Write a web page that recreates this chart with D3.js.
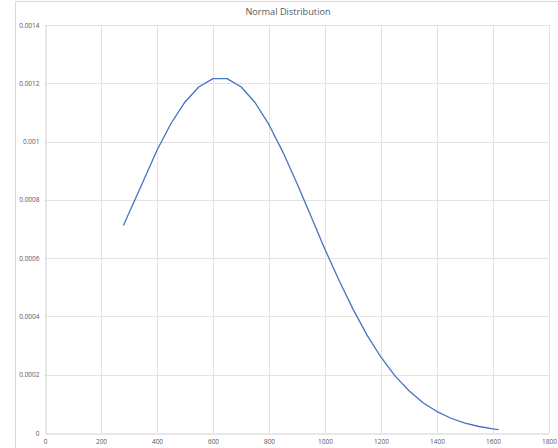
<!DOCTYPE html>
<meta charset="utf-8">
<style>
body { margin: 0; background: #fff; }
svg { font-family: "Open Sans", "Liberation Sans", sans-serif; }
</style>
<svg width="558" height="448"></svg>
<script src="https://d3js.org/d3.v7.min.js"></script>
<script>
// values
var xs = [280, 350, 400, 450, 500, 550, 600, 650, 700, 750, 800, 850, 900, 950,
          1000, 1050, 1100, 1150, 1200, 1250, 1300, 1350, 1400, 1450, 1500, 1550, 1600, 1620];
var ys = [0.000712, 0.000862, 0.000970, 0.001062, 0.001136, 0.001188, 0.001216, 0.001216,
          0.001188, 0.001134, 0.001058, 0.000963, 0.000856, 0.000744, 0.000630, 0.000524, 0.000425,
          0.000336, 0.000260, 0.000196, 0.000145, 0.000104, 0.0000736, 0.0000506, 0.000034,
          0.0000223, 0.0000143, 0.0000119];
var xTicks = [0, 200, 400, 600, 800, 1000, 1200, 1400, 1600, 1800];
var yTicks = [0, 0.0002, 0.0004, 0.0006, 0.0008, 0.001, 0.0012, 0.0014];
var title = "Normal Distribution";

var svg = d3.select("svg");

// chart area frame
svg.append("rect")
    .attr("x", 15.5).attr("y", 1.5)
    .attr("width", 600).attr("height", 600)
    .attr("fill", "none").attr("stroke", "#d9d9d9");

var x = d3.scaleLinear().domain([0, 1800]).range([45, 549]);
var y = d3.scaleLinear().domain([0, 0.0014]).range([433, 25]);

// grid
svg.append("g").selectAll("line")
    .data(yTicks.slice(1))
    .enter().append("line")
      .attr("x1", x(0)).attr("x2", x(1800))
      .attr("y1", function (d) { return Math.round(y(d)) + 0.5 })
      .attr("y2", function (d) { return Math.round(y(d)) + 0.5 })
      .attr("stroke", "#e3e3e3").attr("stroke-width", 1)

svg.append("g").selectAll("line")
    .data(xTicks.slice(1))
    .enter().append("line")
      .attr("x1", function (d) { return Math.round(x(d)) + 0.5 })
      .attr("x2", function (d) { return Math.round(x(d)) + 0.5 })
      .attr("y1", y(0)).attr("y2", y(0.0014))
      .attr("stroke", "#e3e3e3").attr("stroke-width", 1)

// axes
var xAxis = svg.append("g")
    .attr("transform", "translate(0," + (Math.round(y(0)) + 0.5) + ")")
    .call(d3.axisBottom(x).tickValues(xTicks).tickSize(0).tickPadding(6)
      .tickFormat(d3.format("d")));
xAxis.select(".domain").attr("stroke", "#cfcfcf");

var yAxis = svg.append("g")
    .attr("transform", "translate(" + (Math.round(x(0)) + 0.5) + ",0)")
    .call(d3.axisLeft(y).tickValues(yTicks).tickSize(0).tickPadding(6)
      .tickFormat(function (d) { return d === 0 ? "0" : String(+d.toPrecision(2)) }));
yAxis.select(".domain").attr("stroke", "#cfcfcf");

svg.selectAll(".tick text")
    .attr("fill", "#595959")
    .style("font-size", "6.5px")
    .style("font-family", "'Open Sans', sans-serif");

// the curve
var pts = xs.map(function (v, i) { return [v, ys[i]] });
svg.append("path")
    .datum(pts)
    .attr("fill", "none")
    .attr("stroke", "#4472c4")
    .attr("stroke-width", 1.3)
    .attr("stroke-linejoin", "round")
    .attr("d", d3.line()
      .x(function (d) { return x(d[0]) })
      .y(function (d) { return y(d[1]) }));

svg.append("text")
    .attr("x", 288).attr("y", 15)
    .attr("text-anchor", "middle")
    .attr("fill", "#595959")
    .style("font-size", "9.2px")
    .text(title);
</script>
